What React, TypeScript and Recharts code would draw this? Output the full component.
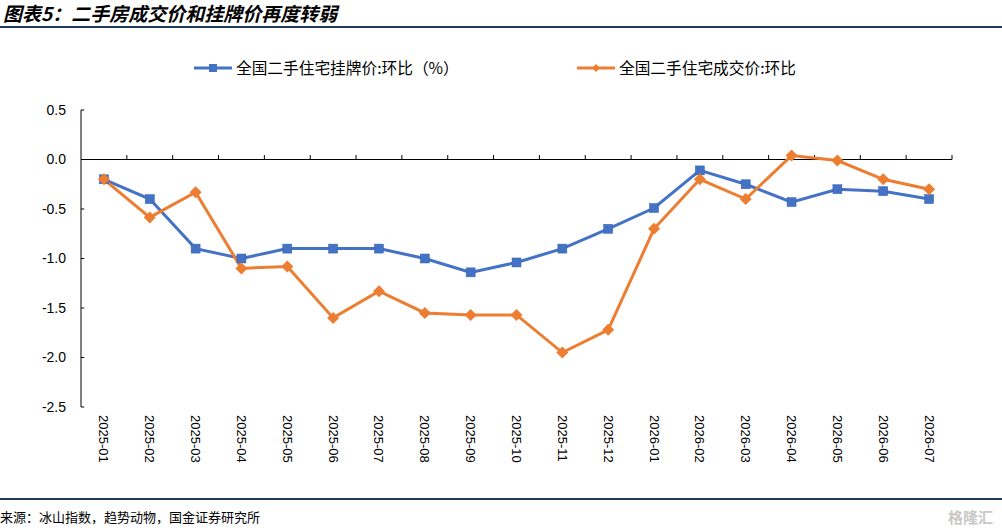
import React from 'react';
import { LineChart, Line, XAxis, YAxis, ReferenceLine, Legend } from 'recharts';

const months = [
  '2025-01', '2025-02', '2025-03', '2025-04', '2025-05', '2025-06', '2025-07', '2025-08', '2025-09', '2025-10',
  '2025-11', '2025-12', '2026-01', '2026-02', '2026-03', '2026-04', '2026-05', '2026-06', '2026-07',
];
const listingMoM = [-0.2, -0.4, -0.9, -1.0, -0.9, -0.9, -0.9, -1.0, -1.14, -1.04, -0.9, -0.7, -0.49, -0.11, -0.25, -0.43, -0.3, -0.32, -0.4];
const dealMoM = [-0.2, -0.585, -0.33, -1.1, -1.08, -1.6, -1.33, -1.55, -1.57, -1.57, -1.95, -1.72, -0.7, -0.2, -0.4, 0.04, -0.01, -0.2, -0.3];
const yTicks = [0.5, 0, -0.5, -1, -1.5, -2, -2.5];
const seriesNames = ['全国二手住宅挂牌价:环比（%）', '全国二手住宅成交价:环比'];
const title = '图表5：二手房成交价和挂牌价再度转弱';
const source = '来源：冰山指数，趋势动物，国金证券研究所';

const BLUE = '#4472C4';
const ORANGE = '#ED7D31';
const CJK = '"Noto Sans CJK SC", "Noto Sans", sans-serif';
const LATIN = '"Liberation Sans", Arial, sans-serif';

const data = months.map((m, i) => ({ pos: i + 0.5, month: m, listing: listingMoM[i], deal: dealMoM[i] }));
const xTicks = months.map((_, i) => i + 0.5);
const boundaries = Array.from({ length: months.length }, (_, i) => i + 1);

const SquareDot = (props: any) => {
  const { cx, cy } = props;
  if (cx == null || cy == null) return null;
  return <rect x={cx - 4.5} y={cy - 4.5} width={9} height={9} fill={BLUE} stroke="#3563B5" strokeWidth={0.5} />;
};

const DiamondDot = (props: any) => {
  const { cx, cy } = props;
  if (cx == null || cy == null) return null;
  const r = 6;
  return <polygon points={`${cx},${cy - r} ${cx + r},${cy} ${cx},${cy + r} ${cx - r},${cy}`} fill={ORANGE} />;
};

const XTick = (props: any) => {
  const { x, y, payload } = props;
  const idx = Math.round(payload.value - 0.5);
  return (
    <text
      x={x}
      y={y}
      transform={`rotate(90 ${x} ${y})`}
      textAnchor="start"
      dominantBaseline="central"
      fontSize={13}
      fontFamily={LATIN}
      fill="#000"
    >
      {months[idx]}
    </text>
  );
};

const LegendContent = () => (
  <div style={{ position: 'relative', height: 0 }}>
    <div style={{ position: 'absolute', left: 194, top: 0, width: 38, height: 20 }}>
      <svg width={38} height={20}>
        <line x1={0} y1={10} x2={38} y2={10} stroke={BLUE} strokeWidth={3} />
        <rect x={15} y={6} width={8} height={8} fill={BLUE} />
      </svg>
    </div>
    <div style={{ position: 'absolute', left: 236, top: 0, height: 20, lineHeight: '20px', fontSize: 15.7, fontFamily: CJK, color: '#000', whiteSpace: 'nowrap' }}>
      {seriesNames[0]}
    </div>
    <div style={{ position: 'absolute', left: 577, top: 0, width: 38, height: 20 }}>
      <svg width={38} height={20}>
        <line x1={0} y1={10} x2={38} y2={10} stroke={ORANGE} strokeWidth={3} />
        <polygon points="19,6 23,10 19,14 15,10" fill={ORANGE} />
      </svg>
    </div>
    <div style={{ position: 'absolute', left: 619, top: 0, height: 20, lineHeight: '20px', fontSize: 15.7, fontFamily: CJK, color: '#000', whiteSpace: 'nowrap' }}>
      {seriesNames[1]}
    </div>
  </div>
);

export default function App() {
  return (
    <div style={{ position: 'absolute', left: 0, top: 0, width: 1002, height: 530, background: '#fff', overflow: 'hidden' }}>
      <div
        style={{
          position: 'absolute', left: 3, top: 0, fontSize: 19, fontWeight: 'bold', fontStyle: 'italic',
          fontFamily: CJK, color: '#000', whiteSpace: 'nowrap', lineHeight: '26px', paddingRight: 4,
        }}
      >
        {title}
      </div>
      <div style={{ position: 'absolute', left: 0, top: 26, width: 1002, height: 2, background: '#1F3A5A' }} />
      <div style={{ position: 'absolute', left: 0, top: 0 }}>
        <LineChart width={1002} height={530} data={data} margin={{ top: 110, right: 50, bottom: 43, left: 21 }}>
          <XAxis
            dataKey="pos"
            type="number"
            domain={[0, months.length]}
            ticks={xTicks}
            interval={0}
            axisLine={false}
            tickLine={false}
            tick={<XTick />}
            height={80}
            tickMargin={2}
          />
          <YAxis
            type="number"
            domain={[-2.5, 0.5]}
            ticks={yTicks}
            interval={0}
            width={60}
            axisLine={{ stroke: '#000', strokeWidth: 1 }}
            tickLine={false}
            tickMargin={9}
            tickFormatter={(v: number) => v.toFixed(1)}
            tick={{ fontSize: 14, fontFamily: LATIN, fill: '#000' }}
          />
          <ReferenceLine y={0} stroke="#000" strokeWidth={1} />
          {boundaries.map((b) => (
            <ReferenceLine key={`xb${b}`} segment={[{ x: b, y: 0 }, { x: b, y: 0.045 }]} stroke="#000" strokeWidth={1} />
          ))}
          {yTicks.map((v) => (
            <ReferenceLine key={`yt${v}`} segment={[{ x: 0, y: v }, { x: 0.07, y: v }]} stroke="#000" strokeWidth={1} />
          ))}
          <Legend
            verticalAlign="top"
            wrapperStyle={{ position: 'absolute', top: 58, left: 0, width: 1002 }}
            content={<LegendContent />}
          />
          <Line
            dataKey="listing"
            name={seriesNames[0]}
            stroke={BLUE}
            strokeWidth={3}
            dot={<SquareDot />}
            activeDot={false}
            isAnimationActive={false}
          />
          <Line
            dataKey="deal"
            name={seriesNames[1]}
            stroke={ORANGE}
            strokeWidth={3}
            dot={<DiamondDot />}
            activeDot={false}
            isAnimationActive={false}
          />
        </LineChart>
      </div>
      <div style={{ position: 'absolute', left: 0, top: 498, width: 1002, height: 1.5, background: '#1F3A5A' }} />
      <div
        style={{
          position: 'absolute', left: 0, top: 508, fontSize: 13, fontFamily: CJK, color: '#000',
          whiteSpace: 'nowrap', lineHeight: '18px',
        }}
      >
        {source}
      </div>
      <div
        style={{
          position: 'absolute', left: 948, top: 507, fontSize: 15, fontFamily: CJK, color: '#c8c8c8',
          whiteSpace: 'nowrap', lineHeight: '20px', fontWeight: 'bold',
        }}
      >
        格隆汇
      </div>
    </div>
  );
}
